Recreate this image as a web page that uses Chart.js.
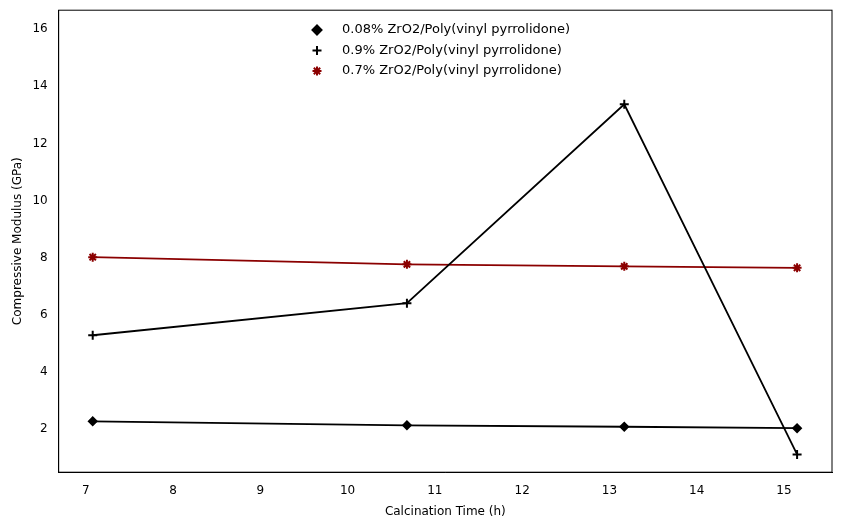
<!DOCTYPE html>
<html>
<head>
<meta charset="UTF-8">
<script src="https://cdn.jsdelivr.net/npm/chart.js"></script>
<style>
  body { margin: 0; background: #fff; }
  #wrap { width: 842px; height: 525px; }
</style>
</head>
<body>
<div id="wrap"><canvas id="grafico"></canvas></div>
<script>
const calcTime = [7.08, 10.68, 13.17, 15.15];
const zr008 = [2.28, 2.14, 2.09, 2.04];
const zr09 = [5.29, 6.41, 13.37, 1.12];
const zr07 = [8.02, 7.77, 7.70, 7.65];
const seriesNames = ['0.08% ZrO2/Poly(vinyl pyrrolidone)', '0.9% ZrO2/Poly(vinyl pyrrolidone)', '0.7% ZrO2/Poly(vinyl pyrrolidone)'];

const pts = arr => arr.map((v, i) => ({ x: calcTime[i], y: v }));
const font = { family: 'DejaVu Sans', size: 12 };

new Chart(document.getElementById('grafico'), {
  type: 'line',
  data: {
    datasets: [
      { label: seriesNames[0], data: pts(zr008), borderColor: '#000', backgroundColor: '#000', pointStyle: 'rectRot', pointRadius: 4, borderWidth: 1.8 },
      { label: seriesNames[1], data: pts(zr09), borderColor: '#000', backgroundColor: '#000', pointStyle: 'cross', pointRadius: 4.5, pointBorderWidth: 2, borderWidth: 1.8 },
      { label: seriesNames[2], data: pts(zr07), borderColor: '#8b0000', backgroundColor: '#8b0000', pointStyle: 'star', pointRadius: 4.5, pointBorderWidth: 2, borderWidth: 1.8 }
    ]
  },
  options: {
    responsive: true,
    maintainAspectRatio: false,
    animation: false,
    layout: { padding: { top: 10, right: 10, left: 7, bottom: 2 } },
    plugins: {
      legend: { display: false },
      tooltip: { enabled: false }
    },
    scales: {
      x: {
        type: 'linear', min: 6.69, max: 15.55,
        afterBuildTicks: s => { s.ticks = [7, 8, 9, 10, 11, 12, 13, 14, 15].map(v => ({ value: v })); },
        grid: { display: false },
        border: { color: '#000' },
        ticks: { color: '#000', font: font },
        title: { display: true, text: 'Calcination Time (h)', color: '#000', font: font }
      },
      y: {
        min: 0.5, max: 16.66,
        afterBuildTicks: s => { s.ticks = [2, 4, 6, 8, 10, 12, 14, 16].map(v => ({ value: v })); },
        grid: { display: false },
        border: { color: '#000' },
        ticks: { color: '#000', font: font },
        title: { display: true, text: 'Compressive Modulus (GPa)', color: '#000', font: font }
      }
    }
  },
  plugins: [{
    id: 'frameAndLegend',
    afterDraw(c) {
      const a = c.chartArea, ctx = c.ctx;
      ctx.save(); ctx.strokeStyle = '#000'; ctx.lineWidth = 1;
      ctx.strokeRect(a.left, a.top, a.right - a.left, a.bottom - a.top);
      // legenda sem moldura, no topo ao centro
      ctx.font = '13px DejaVu Sans'; ctx.fillStyle = '#000'; ctx.textBaseline = 'middle';
      c.data.datasets.forEach((ds, i) => {
        const y = 30 + i * 20.5;
        ctx.strokeStyle = ds.borderColor; ctx.fillStyle = ds.backgroundColor;
        ctx.lineWidth = 2;
        Chart.helpers.drawPoint(ctx, { pointStyle: ds.pointStyle, radius: 4.5, rotation: 0, borderWidth: 2 }, 317, y);
        ctx.fillStyle = '#000';
        ctx.fillText(ds.label, 342, y);
      });
      ctx.restore();
    }
  }]
});
</script>
</body>
</html>
